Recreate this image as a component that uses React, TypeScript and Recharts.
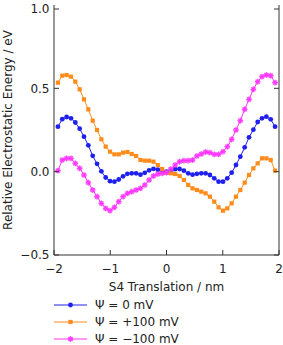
import React from 'react';
import { LineChart, Line, XAxis, YAxis } from 'recharts';

const xValues = [
  -1.93, -1.853, -1.776, -1.698, -1.621, -1.544, -1.467, -1.39, -1.312, -1.235,
  -1.158, -1.081, -1.004, -0.926, -0.849, -0.772, -0.695, -0.618, -0.54, -0.463,
  -0.386, -0.309, -0.232, -0.154, -0.077, 0, 0.077, 0.154, 0.232, 0.309,
  0.386, 0.463, 0.54, 0.618, 0.695, 0.772, 0.849, 0.926, 1.004, 1.081,
  1.158, 1.235, 1.312, 1.39, 1.467, 1.544, 1.621, 1.698, 1.776, 1.853, 1.93,
];

const psi0 = [
  0.27, 0.315, 0.328, 0.32, 0.295, 0.258, 0.21, 0.158, 0.095, 0.047,
  0.002, -0.035, -0.057, -0.06, -0.047, -0.028, -0.013, -0.01, -0.01, -0.018,
  -0.007, 0.008, 0.017, 0.012, 0.006, 0.0, 0.003, 0.015, 0.016, 0.006,
  -0.01, -0.018, -0.013, -0.01, -0.01, -0.02, -0.04, -0.06, -0.06, -0.04,
  -0.006, 0.04, 0.09, 0.146, 0.206, 0.252, 0.298, 0.32, 0.33, 0.314, 0.27,
];

const psiPlus100 = [
  0.534, 0.576, 0.58, 0.57, 0.54, 0.494, 0.434, 0.374, 0.306, 0.25,
  0.194, 0.15, 0.12, 0.104, 0.104, 0.114, 0.118, 0.106, 0.094, 0.07,
  0.066, 0.066, 0.06, 0.04, 0.016, -0.006, -0.01, -0.014, -0.026, -0.05,
  -0.08, -0.1, -0.11, -0.12, -0.13, -0.15, -0.18, -0.214, -0.234, -0.22,
  -0.19, -0.15, -0.11, -0.066, -0.02, 0.02, 0.05, 0.08, 0.08, 0.07, 0.006,
];

const psiMinus100 = [
  0.006, 0.07, 0.08, 0.08, 0.05, 0.02, -0.02, -0.066, -0.11, -0.15,
  -0.19, -0.22, -0.234, -0.214, -0.18, -0.15, -0.13, -0.12, -0.11, -0.1,
  -0.08, -0.05, -0.026, -0.014, -0.01, -0.006, 0.016, 0.04, 0.06, 0.066,
  0.066, 0.07, 0.094, 0.106, 0.118, 0.114, 0.104, 0.104, 0.12, 0.15,
  0.194, 0.25, 0.306, 0.374, 0.434, 0.494, 0.54, 0.57, 0.58, 0.576, 0.534,
];

const xTicks = [-2, -1, 0, 1, 2];
const yTicks = [-0.5, 0, 0.5, 1];
const seriesKeys = ['s0', 's1', 's2'];
const seriesNames = ['Ψ = 0 mV', 'Ψ = +100 mV', 'Ψ = −100 mV'];
const seriesColors = ['#1f1ff0', '#ff8c1a', '#ff33ff'];
const seriesMarkers = ['circle', 'square', 'star'];
const xLabel = 'S4 Translation / nm';
const yLabel = 'Relative Electrostatic Energy / eV';

const data = xValues.map((x, i) => ({
  x,
  s0: psi0[i],
  s1: psiPlus100[i],
  s2: psiMinus100[i],
}));

const FONT = 'DejaVu Sans';
const TEXT = '#222';
const AXIS = '#333';

const fmtMinus = (s: string) => s.replace('-', '\u2212');

function Marker({ kind, cx, cy, color }: { kind: string; cx: number; cy: number; color: string }) {
  if (kind === 'circle') return <circle cx={cx} cy={cy} r={2.4} fill={color} stroke="none" />;
  if (kind === 'square')
    return <rect x={cx - 2.1} y={cy - 2.1} width={4.2} height={4.2} fill={color} stroke="none" />;
  const r = 2.8;
  const d = r * 0.707;
  return (
    <g stroke={color} strokeWidth={1.2} opacity={0.95}>
      <circle cx={cx} cy={cy} r={2.6} fill={color} opacity={0.35} stroke="none" />
      <line x1={cx - r} y1={cy} x2={cx + r} y2={cy} />
      <line x1={cx} y1={cy - r} x2={cx} y2={cy + r} />
      <line x1={cx - d} y1={cy - d} x2={cx + d} y2={cy + d} />
      <line x1={cx - d} y1={cy + d} x2={cx + d} y2={cy - d} />
    </g>
  );
}

const LeftTick = (props: any) => {
  const { x, y, payload } = props;
  return (
    <g>
      <line x1={x + 4.5} y1={y} x2={x + 9.5} y2={y} stroke={AXIS} strokeWidth={1} />
      <text x={x} y={y + 4.3} textAnchor="end" fontFamily={FONT} fontSize={12} fill={TEXT}>
        {fmtMinus(Number(payload.value).toFixed(1))}
      </text>
    </g>
  );
};

const RightTick = (props: any) => {
  const { x, y } = props;
  return <line x1={x - 5} y1={y} x2={x} y2={y} stroke={AXIS} strokeWidth={1} />;
};

const BottomTick = (props: any) => {
  const { x, y, payload } = props;
  return (
    <g>
      <line x1={x} y1={y} x2={x} y2={y - 5} stroke={AXIS} strokeWidth={1} />
      <text x={x} y={y + 17.5} textAnchor="middle" fontFamily={FONT} fontSize={12} fill={TEXT}>
        {fmtMinus(String(payload.value))}
      </text>
    </g>
  );
};

const TopTick = (props: any) => {
  const { x, y } = props;
  return <line x1={x} y1={y} x2={x} y2={y + 5} stroke={AXIS} strokeWidth={1} />;
};

const XLabel = (props: any) => {
  const vb = props.viewBox || {};
  return (
    <text x={vb.x + vb.width / 2} y={vb.y + 35.7} textAnchor="middle" fontFamily={FONT} fontSize={12} fill={TEXT}>
      {xLabel}
    </text>
  );
};

const YLabel = (props: any) => {
  const vb = props.viewBox || {};
  const cx = vb.x + 11.7;
  const cy = vb.y + vb.height / 2;
  return (
    <text
      x={cx}
      y={cy}
      transform={`rotate(-90 ${cx} ${cy})`}
      textAnchor="middle"
      fontFamily={FONT}
      fontSize={12}
      fill={TEXT}
    >
      {yLabel}
    </text>
  );
};

export default function App() {
  return (
    <div style={{ position: 'absolute', left: 0, top: 0, width: 283, height: 345, background: '#fff' }}>
      <LineChart width={283} height={345} data={data} margin={{ top: 5, right: 0, bottom: 50, left: 0 }}>
        <XAxis
          dataKey="x"
          type="number"
          domain={[-2, 2]}
          ticks={xTicks}
          allowDataOverflow
          height={40}
          tickSize={0}
          tickMargin={0}
          tick={<BottomTick />}
          axisLine={{ stroke: AXIS, strokeWidth: 1 }}
          label={<XLabel />}
        />
        <XAxis
          xAxisId="top"
          orientation="top"
          dataKey="x"
          type="number"
          domain={[-2, 2]}
          ticks={xTicks}
          allowDataOverflow
          height={0}
          tickSize={0}
          tickMargin={0}
          tick={<TopTick />}
          axisLine={{ stroke: AXIS, strokeWidth: 1 }}
        />
        <YAxis
          type="number"
          domain={[-0.5, 1]}
          ticks={yTicks}
          allowDataOverflow
          width={54}
          tickSize={0}
          tickMargin={4.5}
          tick={<LeftTick />}
          axisLine={{ stroke: AXIS, strokeWidth: 1 }}
          label={<YLabel />}
        />
        <YAxis
          yAxisId="right"
          orientation="right"
          type="number"
          domain={[-0.5, 1]}
          ticks={yTicks}
          allowDataOverflow
          width={4}
          tickSize={0}
          tickMargin={0}
          tick={<RightTick />}
          axisLine={{ stroke: AXIS, strokeWidth: 1 }}
        />
        {seriesKeys.map((k, si) => (
          <Line
            key={k}
            dataKey={k}
            name={seriesNames[si]}
            type="linear"
            stroke={seriesColors[si]}
            strokeWidth={1}
            isAnimationActive={false}
            dot={(p: any) => (
              <Marker key={`${k}-${p.index}`} kind={seriesMarkers[si]} cx={p.cx} cy={p.cy} color={seriesColors[si]} />
            )}
            activeDot={false}
          />
        ))}
      </LineChart>
      <svg width={283} height={345} style={{ position: 'absolute', left: 0, top: 0, pointerEvents: 'none' }}>
        {seriesNames.map((name, si) => {
          const y = 305 + si * 17;
          return (
            <g key={name}>
              <line x1={54} y1={y} x2={87} y2={y} stroke={seriesColors[si]} strokeWidth={1} />
              <Marker kind={seriesMarkers[si]} cx={70.5} cy={y} color={seriesColors[si]} />
              <text x={95} y={y + 4.3} fontFamily={FONT} fontSize={12} fill={TEXT}>
                {name}
              </text>
            </g>
          );
        })}
      </svg>
    </div>
  );
}
